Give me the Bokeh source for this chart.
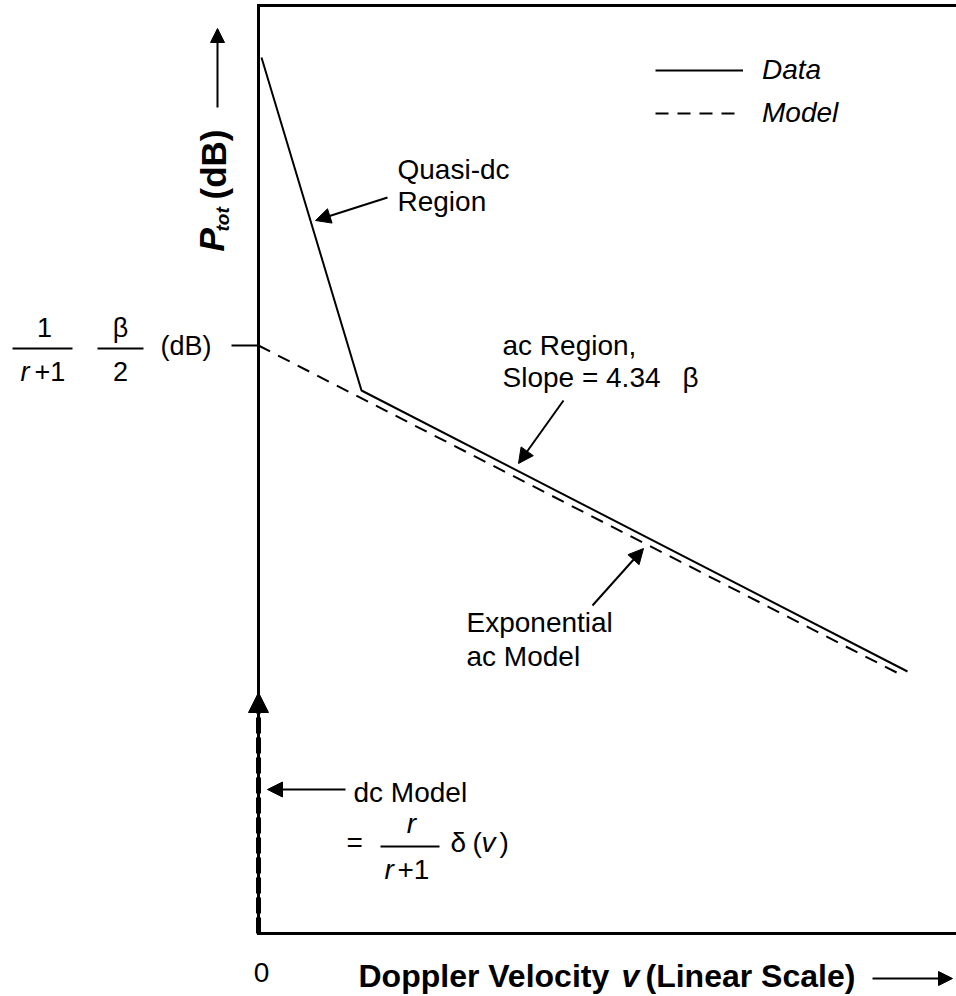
import math

from bokeh.embed import file_html
from bokeh.models import Arrow, Label, Legend, LegendItem, NormalHead, Range1d
from bokeh.plotting import figure
from bokeh.resources import INLINE

# ---- data (Doppler velocity in linear units, total power in dB) ----
data_v = [0.03, 1.03, 6.49]          # measured spectrum: quasi-dc knee, then ac slope
data_db = [-2.6, -19.25, -33.3]
model_v = [0.0, 6.42]                # exponential ac model
model_db = [-17.0, -33.45]
dc_v = [0.0]                         # dc model: delta at v = 0
dc_db = [-34.35]
x_ticks = [0]
x_tick_labels = ["0"]
y_ticks = [model_db[0]]              # labelled level of the ac model at v = 0

# plotting box: v from 0 to V_MAX, power from DB_MIN up to DB_MAX
V_MAX = 6.98
DB_MIN, DB_MAX = -46.4, 0.0

# ---- canvas layout ----
W, H = 956, 996
PX_V, PX_DB = 100.0, 20.0            # pixels per velocity unit / per dB
ORIGIN_X, TOP_Y = 258, 5             # canvas position of v = 0 and of DB_MAX
X0 = -ORIGIN_X / PX_V
X1 = X0 + W / PX_V
Y1 = DB_MAX + TOP_Y / PX_DB
Y0 = Y1 - H / PX_DB
FONT = "Liberation Sans"


def cx(px):
    """canvas x (pixels) -> velocity units"""
    return X0 + px / PX_V


def cy(py):
    """canvas y (pixels from top) -> dB"""
    return Y1 - py / PX_DB


p = figure(width=W, height=H, title=None, tools="", toolbar_location=None,
           output_backend="svg",
           x_range=Range1d(X0, X1), y_range=Range1d(Y0, Y1),
           x_axis_location=None, y_axis_location=None,
           min_border=0, min_border_left=0, min_border_right=0,
           min_border_top=0, min_border_bottom=0)
p.outline_line_color = None
p.grid.visible = False
p.background_fill_color = "white"
p.border_fill_color = "white"

# open plotting box: top edge, v = 0 axis and bottom axis
p.line([V_MAX + 1, 0, 0, V_MAX + 1], [DB_MAX, DB_MAX, DB_MIN, DB_MIN],
       line_width=3, line_color="black", line_join="miter")

# single y tick at the model intercept
p.segment(x0=[cx(231)], y0=y_ticks, x1=[0], y1=y_ticks,
          line_width=2, line_color="black")

# curves
r_data = p.line(data_v, data_db, line_width=2, line_color="black")
r_model = p.line(model_v, model_db, line_width=2, line_color="black",
                 line_dash="13 9")


def head(size=15):
    return NormalHead(size=size, fill_color="black", line_color="black",
                      line_width=1)


# dc model: delta function drawn as a heavy dashed arrow along v = 0
p.add_layout(Arrow(x_start=dc_v[0], y_start=DB_MIN, x_end=dc_v[0], y_end=dc_db[0],
                   line_width=5, line_color="black", line_dash="16 4",
                   end=head(20)))

legend = Legend(items=[LegendItem(label="Data", renderers=[r_data]),
                       LegendItem(label="Model", renderers=[r_model])],
                location=(655, 867), orientation="vertical",
                glyph_width=88, glyph_height=30, label_height=30,
                label_standoff=19, spacing=11, padding=0, margin=0,
                border_line_color=None, background_fill_alpha=0,
                label_text_font=FONT, label_text_font_style="italic",
                label_text_font_size="28px", label_text_color="black")
p.add_layout(legend)


def txt(px, py, s, size=28, style="normal", align="left", angle=0.0):
    p.add_layout(Label(x=cx(px), y=cy(py), text=s, text_font=FONT,
                       text_font_size=f"{size}px", text_font_style=style,
                       text_align=align, text_baseline="alphabetic",
                       text_color="black", angle=angle))


def seg(px0, py0, px1, py1, width=2, end=None):
    p.add_layout(Arrow(x_start=cx(px0), y_start=cy(py0),
                       x_end=cx(px1), y_end=cy(py1),
                       line_width=width, line_color="black",
                       end=end, start=None))


# x tick label
for t, s in zip(x_ticks, x_tick_labels):
    p.add_layout(Label(x=t, y=cy(972), text=s, text_font=FONT,
                       text_font_size="28px", text_align="center",
                       text_baseline="alphabetic", text_color="black",
                       x_offset=3))

# annotations inside the box
txt(397, 169, "Quasi-dc")
txt(397, 201, "Region")
seg(387, 197, 315, 220, end=head())

txt(502, 345, "ac Region,")
txt(502, 377, "Slope = 4.34")
txt(682, 377, "\u03b2")
seg(563, 400, 518, 463, end=head())

txt(466, 622, "Exponential")
txt(466, 656, "ac Model")
seg(592, 605, 643, 548, end=head())

txt(353, 792, "dc Model")
seg(345, 789, 267, 789, end=head())
txt(346, 842, "=")
txt(411, 823, "r", style="italic", align="center")
seg(380, 846, 439, 846)
txt(384, 869, "r", style="italic")
txt(397, 869, "+1")
txt(450, 842, "\u03b4")
txt(472, 842, "(")
txt(481, 842, "v", style="italic")
txt(499, 842, ")")

# level label left of the y tick: 1/(r+1) * beta/2 (dB)
txt(44, 327, "1", size=27, align="center")
seg(12, 348, 72, 348)
txt(20, 371, "r", size=27, style="italic")
txt(34, 371, "+1", size=27)
txt(120, 327, "\u03b2", size=27, align="center")
seg(97, 348, 143, 348)
txt(120, 371, "2", size=27, align="center")
txt(160, 345, "(dB)", size=27)

# vertical axis title with arrow
txt(211, 251, "P", size=35, style="bold italic", angle=math.pi / 2)
txt(222, 231, "tot", size=19, style="bold italic", angle=math.pi / 2)
txt(213, 199, "(dB)", size=35, style="bold", angle=math.pi / 2)
seg(217, 107, 217, 28, end=head(14))

# horizontal axis title with arrow
txt(358, 975, "Doppler Velocity", size=32, style="bold")
txt(621, 975, "v", size=32, style="bold italic")
txt(645, 975, "(Linear Scale)", size=32, style="bold")
seg(872, 978, 952, 978, end=head(14))

open("out.html", "w").write(file_html(p, INLINE))
